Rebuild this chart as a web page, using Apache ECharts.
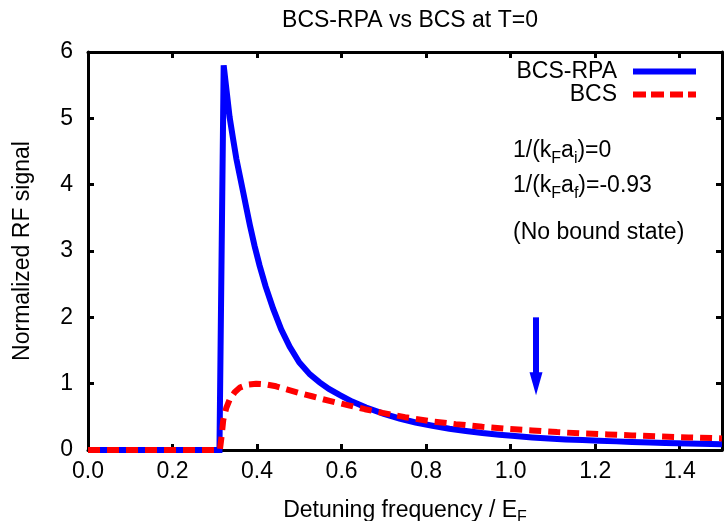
<!DOCTYPE html>
<html><head><meta charset="utf-8">
<script src="https://cdn.jsdelivr.net/npm/echarts@6/dist/echarts.min.js"></script>
<style>html,body{margin:0;padding:0;background:#fff}#c{width:725px;height:521px}</style>
</head><body><div id="c"></div>
<script>
// BCS-RPA (solid blue)
const rpaX = [0, 0.311, 0.321, 0.335, 0.343, 0.351, 0.359, 0.367, 0.375, 0.383, 0.394, 0.406, 0.420, 0.438, 0.457, 0.477, 0.500, 0.525, 0.548, 0.570, 0.595, 0.625, 0.658, 0.700, 0.737, 0.775, 0.815, 0.855, 0.894, 0.933, 0.973, 1.010, 1.051, 1.090, 1.130, 1.170, 1.209, 1.250, 1.287, 1.330, 1.366, 1.420, 1.500];
const rpaY = [0, 0, 5.80, 5.02, 4.70, 4.39, 4.14, 3.89, 3.64, 3.39, 3.08, 2.78, 2.47, 2.13, 1.82, 1.56, 1.32, 1.14, 1.02, 0.92, 0.83, 0.73, 0.64, 0.545, 0.475, 0.415, 0.365, 0.32, 0.285, 0.255, 0.23, 0.21, 0.19, 0.175, 0.16, 0.15, 0.14, 0.13, 0.12, 0.112, 0.105, 0.097, 0.087];
// BCS (dashed red)
const bcsX = [0, 0.312, 0.316, 0.320, 0.327, 0.335, 0.347, 0.359, 0.378, 0.398, 0.420, 0.445, 0.470, 0.500, 0.530, 0.556, 0.585, 0.619, 0.655, 0.697, 0.750, 0.815, 0.870, 0.933, 0.990, 1.051, 1.110, 1.169, 1.230, 1.287, 1.350, 1.420, 1.500];
const bcsY = [0, 0, 0.20, 0.45, 0.63, 0.76, 0.87, 0.94, 0.985, 1.00, 0.99, 0.96, 0.915, 0.86, 0.81, 0.765, 0.72, 0.67, 0.615, 0.56, 0.495, 0.43, 0.39, 0.35, 0.32, 0.295, 0.27, 0.25, 0.235, 0.22, 0.205, 0.19, 0.175];
const seriesNames = ['BCS-RPA', 'BCS'];
const xRange = [0, 1.5];
const yRange = [0, 6];
// arrow annotation: x position, start value, end value
const arrowX = 1.06;
const arrowFrom = 2.0;
const arrowTo = 1.0;
const titleText = 'BCS-RPA vs BCS at T=0';
const yName = 'Normalized RF signal';

const FONT = '"Liberation Sans", Arial, Helvetica, sans-serif';
const FS = 23;
const pairs = (xs, ys) => xs.map((x, i) => [x, ys[i]]);

const chart = echarts.init(document.getElementById('c'), null, {renderer: 'canvas'});
const subStyle = {fontSize: 16, fontFamily: FONT, color: '#000', lineHeight: 17, padding: [12, 0, 0, 0], verticalAlign: 'top'};
const normStyle = {fontSize: FS, fontFamily: FONT, color: '#000', lineHeight: 26, verticalAlign: 'top'};

const axisCommon = {
  type: 'value',
  axisLine: {show: true, onZero: false, lineStyle: {color: '#000', width: 3}},
  axisTick: {show: true, inside: true, length: 6, lineStyle: {color: '#000', width: 3}},
  splitLine: {show: false}
};

const dashIcon = 'path://M0,0h13v6h-13z M18,0h13v6h-13z M37,0h13v6h-13z M55,0h8v6h-8z';

chart.setOption({
  animation: false,
  backgroundColor: '#fff',
  title: {
    text: titleText, left: 405, top: 4, textAlign: 'center',
    textStyle: {fontSize: FS, fontWeight: 'normal', fontFamily: FONT, color: '#000'}
  },
  grid: {left: 88, right: 3, top: 52, bottom: 71, containLabel: false, outerBoundsMode: 'none'},
  legend: {
    data: [{name: seriesNames[0], icon: 'rect'}, {name: seriesNames[1], icon: dashIcon}],
    orient: 'vertical', right: 24, top: 55, align: 'right',
    itemWidth: 63, itemHeight: 6, itemGap: 0,
    textStyle: {fontSize: FS, fontFamily: FONT, color: '#000', lineHeight: 23, padding: [0, 11, 0, 0]}
  },
  xAxis: [
    Object.assign({}, axisCommon, {
      position: 'bottom', min: xRange[0], max: xRange[1], interval: 0.2,
      name: 'Detuning frequency / E{sub|F}', nameLocation: 'middle', nameGap: 48,
      nameTextStyle: Object.assign({}, normStyle, {rich: {sub: subStyle}}),
      axisLabel: {show: true, margin: 10, fontSize: FS, fontFamily: FONT, color: '#000', showMaxLabel: false,
        formatter: v => v.toFixed(1)}
    }),
    Object.assign({}, axisCommon, {
      position: 'top', min: xRange[0], max: xRange[1], interval: 0.2,
      axisLabel: {show: false}
    })
  ],
  yAxis: [
    Object.assign({}, axisCommon, {
      position: 'left', min: yRange[0], max: yRange[1], interval: 1,
      name: yName, nameLocation: 'middle', nameGap: 54, nameRotate: 90,
      nameTextStyle: {fontSize: FS, fontFamily: FONT, color: '#000'},
      axisLabel: {show: true, margin: 15, fontSize: FS, fontFamily: FONT, color: '#000'}
    }),
    Object.assign({}, axisCommon, {
      position: 'right', min: yRange[0], max: yRange[1], interval: 1,
      axisLabel: {show: false}
    })
  ],
  graphic: [
    {type: 'text', left: 513, top: 139, style: {
      text: '1/(k{sub|F}a{sub|i})=0', fontSize: FS, fontFamily: FONT, fill: '#000',
      rich: {sub: subStyle}}},
    {type: 'text', left: 513, top: 174, style: {
      text: '1/(k{sub|F}a{sub|f})=-0.93', fontSize: FS, fontFamily: FONT, fill: '#000',
      rich: {sub: subStyle}}},
    {type: 'text', left: 513, top: 221, style: {
      text: '(No bound state)', fontSize: FS, fontFamily: FONT, fill: '#000'}}
  ],
  series: [
    {
      name: seriesNames[0], type: 'line', xAxisIndex: 0, yAxisIndex: 0,
      data: pairs(rpaX, rpaY), showSymbol: false, symbol: 'none', smooth: false,
      lineStyle: {color: '#0000ff', width: 6, join: 'miter', miterLimit: 10},
      itemStyle: {color: '#0000ff'},
      markLine: {
        silent: true, animation: false, symbol: ['none', 'triangle'], symbolSize: [13, 23],
        label: {show: false},
        lineStyle: {color: '#0000ff', width: 6, type: 'solid'},
        emphasis: {disabled: true},
        data: [[{coord: [arrowX, arrowFrom]}, {coord: [arrowX, arrowTo]}]]
      },
      z: 2
    },
    {
      name: seriesNames[1], type: 'line', xAxisIndex: 0, yAxisIndex: 0,
      data: pairs(bcsX, bcsY), showSymbol: false, symbol: 'none', smooth: false,
      lineStyle: {color: '#ff0000', width: 6, type: [12, 7], cap: 'butt'},
      itemStyle: {color: '#ff0000'},
      z: 3
    }
  ]
});
</script>
</body></html>
